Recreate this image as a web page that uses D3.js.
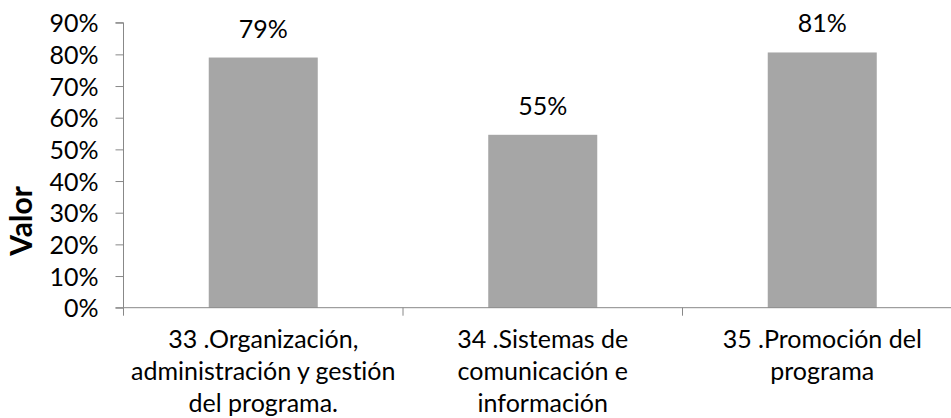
<!DOCTYPE html>
<html>
<head>
<meta charset="utf-8">
<script src="https://cdn.jsdelivr.net/npm/d3@7"></script>
<style>
  html, body { margin: 0; padding: 0; background: #fff; }
  svg { display: block; font-family: Lato, "Open Sans", sans-serif; font-variant-ligatures: none; font-feature-settings: "liga" 0, "clig" 0; }
</style>
</head>
<body>
<svg id="chart" width="951" height="418"></svg>
<script>
const categories = [
  ["33 .Organización,", "administración y gestión", "del programa."],
  ["34 .Sistemas de", "comunicación e", "información"],
  ["35 .Promoción del", "programa"]
];
const values = [0.79, 0.546, 0.806];
const yTicks = [0, 0.1, 0.2, 0.3, 0.4, 0.5, 0.6, 0.7, 0.8, 0.9];
const yTitle = "Valor";

(function () {
const svg = d3.select("#chart");
const pLeft = 123.5, pRight = 962, pTop = 22.7, pBottom = 307.7;
const fontSize = 25;
const axisColor = "#888888";
const barColor = "#a6a6a6";

const x = d3.scaleBand().domain(d3.range(categories.length)).range([pLeft, pRight]).paddingInner(0.61).paddingOuter(0.305);
const y = d3.scaleLinear().domain([0, 0.9]).range([pBottom, pTop]);
const fmt = d3.format(".0%");
const step = (pRight - pLeft) / categories.length;

// Bars
svg.append("g").selectAll("rect").data(values).join("rect")
  .attr("x", (d, i) => x(i))
  .attr("y", d => y(d))
  .attr("width", x.bandwidth())
  .attr("height", d => y(0) - y(d))
  .attr("fill", barColor);

// Value labels
svg.append("g").selectAll("text").data(values).join("text")
  .attr("x", (d, i) => x(i) + x.bandwidth() / 2)
  .attr("y", d => y(d) - 20)
  .attr("text-anchor", "middle")
  .attr("font-size", fontSize)
  .attr("fill", "#000")
  .text(d => fmt(d));

// Y axis
const yAxis = svg.append("g").attr("transform", `translate(${pLeft},0)`)
  .call(d3.axisLeft(y).tickValues(yTicks).tickFormat(fmt).tickSize(8).tickPadding(17));
yAxis.select(".domain").attr("stroke", axisColor).attr("d", `M-8,${pTop}H0V${pBottom}`);
yAxis.selectAll(".tick line").attr("stroke", axisColor);
yAxis.selectAll(".tick text").attr("font-size", fontSize).attr("fill", "#000")
  .attr("font-family", "Lato, 'Open Sans', sans-serif").attr("dy", "0.36em");

// X axis baseline and category boundary ticks
svg.append("line")
  .attr("x1", pLeft - 8).attr("x2", pRight)
  .attr("y1", y(0)).attr("y2", y(0))
  .attr("stroke", axisColor).attr("stroke-width", 1);
svg.append("g").selectAll("line").data(d3.range(categories.length + 1)).join("line")
  .attr("x1", i => pLeft + i * step).attr("x2", i => pLeft + i * step)
  .attr("y1", y(0)).attr("y2", y(0) + 8)
  .attr("stroke", axisColor);

// Category labels
const catG = svg.append("g").selectAll("text").data(categories).join("text")
  .attr("text-anchor", "middle")
  .attr("font-size", fontSize)
  .attr("fill", "#000");
catG.selectAll("tspan").data((d, i) => d.map(line => ({ line, i }))).join("tspan")
  .attr("x", d => x(d.i) + x.bandwidth() / 2)
  .attr("y", (d, j) => 348.3 + j * 31.7)
  .text(d => d.line);

// Y title
svg.append("text")
  .attr("transform", "translate(32,221) rotate(-90)")
  .attr("text-anchor", "middle")
  .attr("font-size", 30)
  .attr("font-weight", "bold")
  .attr("fill", "#000")
  .text(yTitle);
})();
</script>
</body>
</html>
